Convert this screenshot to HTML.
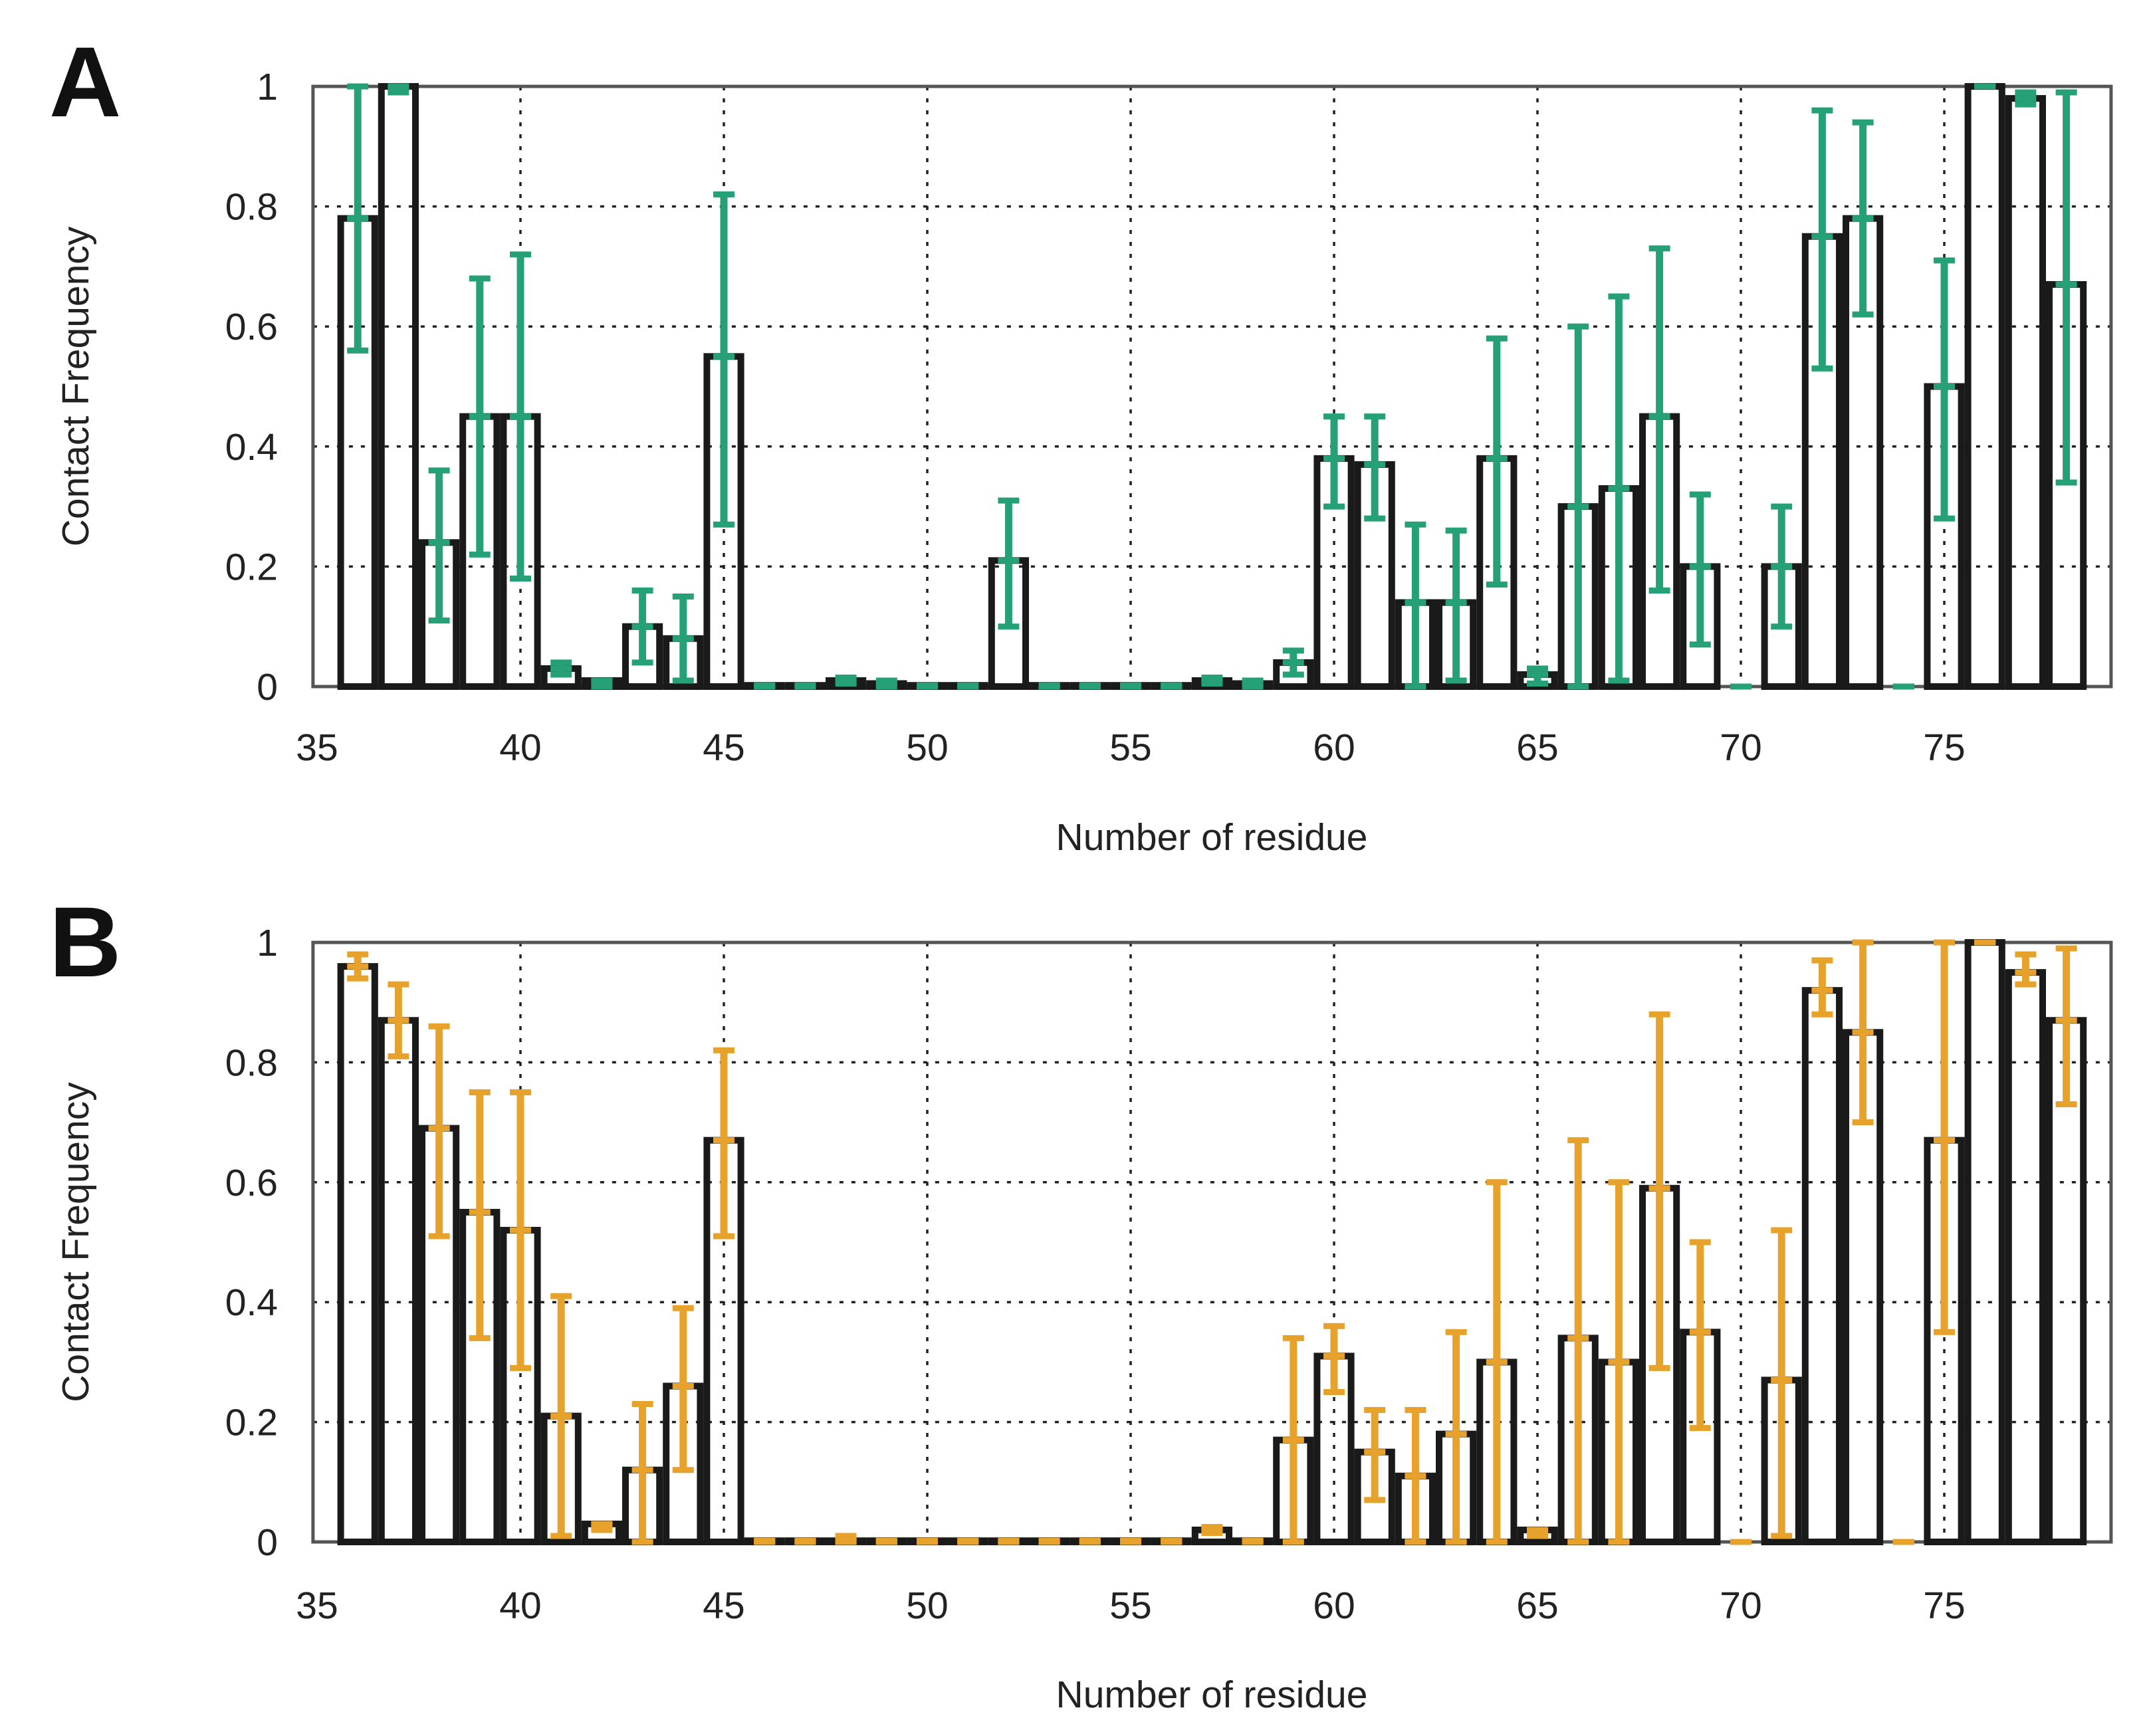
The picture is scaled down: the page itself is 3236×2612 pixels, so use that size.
<!DOCTYPE html>
<html><head><meta charset="utf-8"><style>
html,body{margin:0;padding:0;background:#fff;}
svg{display:block;font-family:"Liberation Sans",sans-serif;}
</style></head><body>
<svg id="fig" width="3236" height="2612" viewBox="0 0 3236 2612" xmlns="http://www.w3.org/2000/svg"></svg>
<script>
const residues = [36,37,38,39,40,41,42,43,44,45,46,47,48,49,50,51,52,53,54,55,56,57,58,59,60,61,62,63,64,65,66,67,68,69,70,71,72,73,74,75,76,77,78];
const xTicks = [35,40,45,50,55,60,65,70,75];
const yTicks = [0,0.2,0.4,0.6,0.8,1];
const yTickLabels = ["0","0.2","0.4","0.6","0.8","1"];
// Panel A
const valA = [0.78,1.0,0.24,0.45,0.45,0.03,0.01,0.10,0.08,0.55,0.002,0.002,0.01,0.005,0.002,0.002,0.21,0.002,0.002,0.002,0.002,0.01,0.005,0.04,0.38,0.37,0.14,0.14,0.38,0.02,0.30,0.33,0.45,0.20,0,0.20,0.75,0.78,0,0.50,1.0,0.98,0.67];
const loA  = [0.56,0.99,0.11,0.22,0.18,0.02,0.0,0.04,0.01,0.27,0,0,0.005,0,0,0,0.10,0,0,0,0,0.005,0,0.02,0.30,0.28,0,0.01,0.17,0.005,0,0.01,0.16,0.07,0,0.10,0.53,0.62,0,0.28,1.0,0.97,0.34];
const hiA  = [1.0,1.0,0.36,0.68,0.72,0.04,0.01,0.16,0.15,0.82,0,0,0.015,0.01,0,0,0.31,0,0,0,0,0.015,0.01,0.06,0.45,0.45,0.27,0.26,0.58,0.03,0.60,0.65,0.73,0.32,0,0.30,0.96,0.94,0,0.71,1.0,0.99,0.99];
// Panel B
const valB = [0.96,0.87,0.69,0.55,0.52,0.21,0.03,0.12,0.26,0.67,0.002,0.002,0.002,0.002,0.002,0.002,0.002,0.002,0.002,0.002,0.002,0.02,0.002,0.17,0.31,0.15,0.11,0.18,0.30,0.02,0.34,0.30,0.59,0.35,0,0.27,0.92,0.85,0,0.67,1.0,0.95,0.87];
const loB  = [0.94,0.81,0.51,0.34,0.29,0.01,0.02,0.0,0.12,0.51,0,0,0,0,0,0,0,0,0,0,0,0.015,0,0.0,0.25,0.07,0.0,0.0,0.0,0.01,0.0,0.0,0.29,0.19,0,0.01,0.88,0.70,0,0.35,1.0,0.93,0.73];
const hiB  = [0.98,0.93,0.86,0.75,0.75,0.41,0.03,0.23,0.39,0.82,0,0,0.01,0,0,0,0,0,0,0,0,0.025,0,0.34,0.36,0.22,0.22,0.35,0.60,0.02,0.67,0.60,0.88,0.50,0,0.52,0.97,1.0,0,1.0,1.0,0.98,0.99];

const NS="http://www.w3.org/2000/svg";
const svg=document.getElementById('fig');
function mk(tag,attrs,parent){const e=document.createElementNS(NS,tag);for(const k in attrs)e.setAttribute(k,attrs[k]);(parent||svg).appendChild(e);return e;}

function panel(cfg){
  const g=mk('g',{});
  
  
  const x0=477, sx=61.2;
  const X=v=>x0+(v-35)*sx;
  const Y=v=>cfg.yz-(cfg.yz-cfg.y1)*v;
  const L=X(34.9), R=X(79.1);
  yTicks.forEach(t=>{ if(t>0&&t<1){const l=mk('line',{x1:L,x2:R,y1:Y(t),y2:Y(t),stroke:'#222','stroke-width':3.5,'stroke-dasharray':'6 12'},g);
     }});
  xTicks.forEach(t=>{ if(t>35){const l=mk('line',{x1:X(t),x2:X(t),y1:Y(1),y2:Y(0),stroke:'#222','stroke-width':3.5,'stroke-dasharray':'6 12'},g);
     }});
  const fr=mk('rect',{x:L,y:Y(1),width:R-L,height:Y(0)-Y(1),fill:'none',stroke:'#555','stroke-width':5},g);
   
  residues.forEach((r,i)=>{
    const v=cfg.val[i]; if(v<=0) return;
    const b=mk('rect',{x:X(r-0.5)+5,y:Y(v),width:sx-10,height:Y(0)-Y(v),fill:'none',stroke:'#1a1a1a','stroke-width':10},g);
     
  });
  residues.forEach((r,i)=>{
    const eg=mk('g',{stroke:cfg.color,'stroke-width':11},g);
     
    const cx=X(r), lo=Y(cfg.lo[i]), hi=Y(cfg.hi[i]);
    mk('line',{x1:cx,x2:cx,y1:hi-4,y2:lo+4},eg);
    mk('line',{x1:cx-16,x2:cx+16,y1:hi,y2:hi,'stroke-width':9},eg);
    mk('line',{x1:cx-16,x2:cx+16,y1:lo,y2:lo,'stroke-width':9},eg);
    mk('line',{x1:cx-16,x2:cx+16,y1:Y(cfg.val[i]),y2:Y(cfg.val[i]),'stroke-width':9},eg);
  });
  yTicks.forEach((t,i)=>{const tx=mk('text',{x:418,y:Y(t)+20,'text-anchor':'end','font-size':57,fill:'#222'},g);
    tx.textContent=yTickLabels[i];  });
  xTicks.forEach(t=>{const tx=mk('text',{x:X(t),y:cfg.xl,'text-anchor':'middle','font-size':57,fill:'#222'},g);
    tx.textContent=t;  });
  const yt=mk('text',{x:0,y:0,'text-anchor':'middle','font-size':57,fill:'#222',transform:`translate(133 ${(Y(0)+Y(1))/2}) rotate(-90)`},g);
  yt.textContent='Contact Frequency';  
  const xt=mk('text',{x:1823,y:cfg.xt,'text-anchor':'middle','font-size':57,fill:'#222'},g);
  xt.textContent='Number of residue';  
  const pl=mk('text',{x:74,y:cfg.ly,'font-size':150,'font-weight':'bold',fill:'#111'},g);
  pl.textContent=cfg.label;  
}
panel({name:'panel-a',label:'A',val:valA,lo:loA,hi:hiA,color:'#26a077',yz:1033,y1:130,xl:1144,xt:1279,ly:175});
panel({name:'panel-b',label:'B',val:valB,lo:loB,hi:hiB,color:'#e6a22a',yz:2320,y1:1418,xl:2435,xt:2569,ly:1469});
</script>
</body></html>
